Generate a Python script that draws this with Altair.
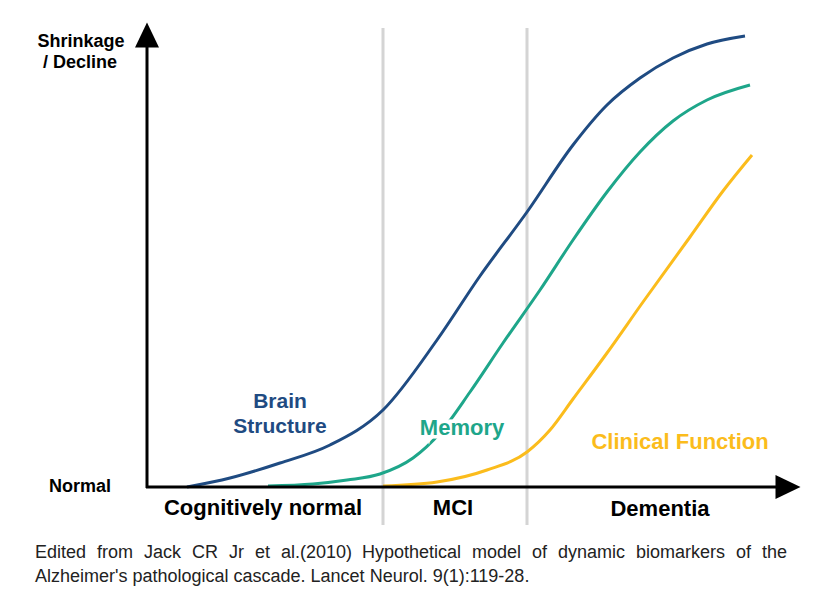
import altair as alt
import pandas as pd

# x = disease progression (0 at the vertical axis), y = shrinkage / decline (0 = normal)
brain_x = [40, 83, 133, 183, 236, 290, 333, 380, 426, 460, 493, 526, 560, 598]
brain_y = [0, 9, 24, 42, 77, 147, 211, 275, 342, 382, 409, 429, 443, 451]
memory_x = [121, 166, 200, 233, 266, 293, 323, 356, 393, 426, 460, 493, 526, 560, 603]
memory_y = [1, 3, 7, 13, 29, 54, 95, 144, 197, 247, 295, 335, 366, 387, 402]
clinical_x = [236, 290, 340, 380, 403, 426, 460, 496, 543, 576, 605]
clinical_y = [1, 5, 17, 35, 57, 88, 134, 185, 250, 296, 332]

series = ["Brain Structure", "Memory", "Clinical Function"]
colors = ["#1f4b82", "#1ea68a", "#fbbc1c"]

stage_names = ["Cognitively normal", "MCI", "Dementia"]
stage_centers = [116, 306, 513]
stage_bounds = [236, 380]

caption_line1_words = ["Edited", "from", "Jack", "CR", "Jr", "et", "al.(2010)", "Hypothetical",
                       "model", "of", "dynamic", "biomarkers", "of", "the"]
caption_line1_starts = [-112, -50, -3, 45, 82, 108, 134, 215, 325, 385, 411, 489, 589, 615]
caption_line2 = "Alzheimer's pathological cascade. Lancet Neurol. 9(1):119-28."

XD = [-139, 672]
YD = [-118, 479]
xs = alt.Scale(domain=XD, nice=False, zero=False)
ys = alt.Scale(domain=YD, nice=False, zero=False)

curves = pd.DataFrame(
    [{"s": series[0], "x": a, "y": b} for a, b in zip(brain_x, brain_y)]
    + [{"s": series[1], "x": a, "y": b} for a, b in zip(memory_x, memory_y)]
    + [{"s": series[2], "x": a, "y": b} for a, b in zip(clinical_x, clinical_y)]
)

X = lambda f="x": alt.X(f"{f}:Q", scale=xs, axis=None)
Y = lambda f="y": alt.Y(f"{f}:Q", scale=ys, axis=None)

# stage dividers
div_df = pd.DataFrame({"x": stage_bounds, "y": [-38] * 2, "y2": [459] * 2})
dividers = alt.Chart(div_df).mark_rule(color="#d4d4d4", strokeWidth=3).encode(
    x=X(), y=Y(), y2="y2:Q"
)

lines = alt.Chart(curves).mark_line(strokeWidth=3, interpolate="monotone").encode(
    x=X(), y=Y(),
    color=alt.Color("s:N", scale=alt.Scale(domain=series, range=colors), legend=None),
    detail="s:N",
)

# axes with arrows
axes_df = pd.DataFrame({
    "a": ["v", "v", "h", "h"],
    "x": [0, 0, -1, 629],
    "y": [-1, 440, 0, 0],
})
axes = alt.Chart(axes_df).mark_line(color="black", strokeWidth=3).encode(
    x=X(), y=Y(), detail="a:N", order=alt.Order("x:Q")
)
up_arrow = alt.Chart(pd.DataFrame({"x": [0], "y": [452]})).mark_point(
    shape="M0,-1L0.96,1L-0.96,1Z", size=625, filled=True, color="black", opacity=1
).encode(x=X(), y=Y())
right_arrow = alt.Chart(pd.DataFrame({"x": [641], "y": [0]})).mark_point(
    shape="M1,0L-1,0.96L-1,-0.96Z", size=625, filled=True, color="black", opacity=1
).encode(x=X(), y=Y())

FONT = "Liberation Sans"

def label(texts, xs_, ys_, color, size, halo=False, align="center", font=FONT, weight="bold"):
    df = pd.DataFrame({"t": texts, "x": xs_, "y": ys_})
    base = alt.Chart(df)
    layers = []
    if halo:
        layers.append(base.mark_text(
            font=font, fontSize=size, fontWeight=weight, align=align, baseline="middle",
            stroke="white", strokeWidth=7, color="white"
        ).encode(x=X(), y=Y(), text="t:N"))
    layers.append(base.mark_text(
        font=font, fontSize=size, fontWeight=weight, align=align, baseline="middle", color=color
    ).encode(x=X(), y=Y(), text="t:N"))
    return layers

texts = []
texts += label(["Brain", "Structure"], [133, 133], [85, 60], colors[0], 21)
texts += label(["Memory"], [315], [59], colors[1], 22, halo=True)
texts += label(["Clinical Function"], [533], [45], colors[2], 22)
texts += label(stage_names, stage_centers, [-21, -21, -22], "black", 22)
texts += label(["Shrinkage", "/ Decline"], [-66, -67], [445, 424], "black", 18)
texts += label(["Normal"], [-67], [0], "black", 18)
texts += label(caption_line1_words, caption_line1_starts, [-66] * len(caption_line1_words),
               "#222222", 18, align="left", weight="normal")
texts += label([caption_line2], [-112], [-90], "#222222", 18, align="left", weight="normal")

chart = alt.layer(dividers, lines, axes, up_arrow, right_arrow, *texts).properties(
    width=811, height=597, padding=0, autosize="none"
).configure_view(stroke=None)

chart.save("out.html", embed_options={"renderer": "svg", "actions": False})
